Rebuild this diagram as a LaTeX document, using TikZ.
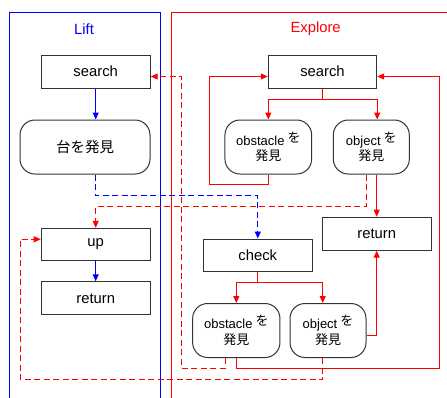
\documentclass[tikz,border=0pt]{standalone}
\usepackage{fontspec}
\setmainfont{Liberation Sans}
\newfontfamily\jp{Noto Sans CJK JP}
\usetikzlibrary{arrows.meta}
\definecolor{liftblue}{RGB}{0,0,255}
\definecolor{explorered}{RGB}{255,0,0}
\tikzset {
    >={Triangle[length=7pt,width=6pt]},
    box/.style={draw=black!80, line width=1pt, minimum width=109pt, minimum height=33pt,
        inner sep=0pt, font=\fontsize{14.8}{17}\selectfont},
    found/.style={box, rounded corners=15pt, minimum height=54pt, align=center,
        font=\fontsize{13}{15.5}\selectfont},
    title/.style={font=\fontsize{14.8}{17}\selectfont},
    bflow/.style={->, draw=liftblue, line width=1pt},
    rflow/.style={->, draw=explorered, line width=1pt},
    bjump/.style={bflow, dash pattern=on 6pt off 3.5pt},
    rjump/.style={rflow, dash pattern=on 6pt off 3.5pt}
}
\newcommand{\wo}{\hspace{3pt}\raisebox{3pt}{\jp を}}

\begin{document}
\begin{tikzpicture}[x=1pt, y=-1pt]
    \useasboundingbox (0,0) rectangle (447,397);
    \clip (0,0) rectangle (447,397);

    % frames
    \draw[liftblue, line width=1pt] (9,12) rectangle (160.7,410);
    \draw[explorered, line width=1pt] (171.7,12) rectangle (460,410);
    \node[title, text=liftblue] (lift) at (84,29) {Lift};
    \node[title, text=explorered] (explore) at (315.6,29) {Explore};

    % Lift
    \node[box] (lsearch) at (95.7,71.5) {search};
    \node[found, minimum width=130pt, font=\fontsize{14.5}{17}\selectfont] (lfound) at (85,147) {\jp 台を発見};
    \node[box, minimum height=32pt] (lup) at (95.7,244.3) {up};
    \node[box] (lreturn) at (95.7,298.3) {return};

    % Explore
    \node[box, minimum width=108.4pt] (esearch) at (322.5,71.5) {search};
    \node[found, minimum width=86.7pt] (eobst) at (268.3,147) {obstacle\wo\\{\jp 発見}};
    \node[found, minimum width=76pt] (eobj) at (371.3,147) {object\wo\\{\jp 発見}};
    \node[box] (ereturn) at (376.7,233.7) {return};
    \node[box, minimum height=32pt] (check) at (257.8,255) {check};
    \node[found, minimum width=87.3pt] (cobst) at (236.3,330.5) {obstacle\wo\\{\jp 発見}};
    \node[found, minimum width=76pt] (cobj) at (328,330.5) {object\wo\\{\jp 発見}};

    \coordinate (eloopl) at (209.3,184.3);
    \coordinate (eloopr) at (439.3,368.3);
    \coordinate (lloop) at (181.7,368.3);
    \coordinate (uploop) at (20,379.3);

    \draw[bflow] (lsearch.south) -- (lsearch.south |- lfound.north);
    \draw[bjump] (lsearch.south |- lfound.south) -- ++(0,21.3) -| (check.north);
    \draw[bflow] (lup) -- (lreturn);

    \draw[rflow] (esearch.south) -- ++(0,10.7) coordinate (esplit) -| (eobst.north);
    \draw[rflow] (esplit) -| (esearch.east |- eobj.north);
    \draw[rflow] (eobst.south) |- (eloopl) |- ([yshift=-5pt]esearch.west);
    \draw[rflow] (ereturn.north |- eobj.south) -- (ereturn.north);
    \draw[rjump] ([xshift=-5.3pt]eobj.south) -- ++(0,32) -| (lup.north);

    \draw[rflow] (check.south) -- ++(0,10.7) coordinate (csplit) -| (cobst.north);
    \draw[rflow] (csplit) -| ([xshift=-5.3pt]cobj.north);
    \draw[rflow] ([yshift=-5pt]cobj.east) -| (ereturn.south);
    \draw[rflow] (cobst.south) |- (eloopr) |- ([yshift=-5pt]esearch.east);
    \draw[rjump] ([xshift=-11.3pt]cobst.south) |- (lloop) |- ([yshift=-5pt]lsearch.east);
    \draw[rjump] ([xshift=-5.3pt]cobj.south) |- (uploop) |- ([yshift=5pt]lup.west);
\end{tikzpicture}
\end{document}
